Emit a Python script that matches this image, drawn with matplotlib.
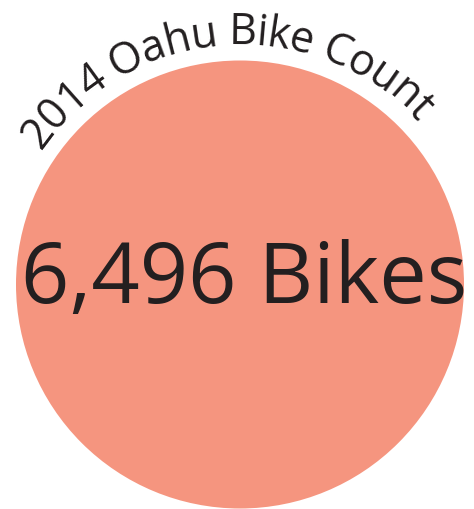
import numpy as np
import matplotlib.pyplot as plt
from matplotlib.patches import Circle
from matplotlib.font_manager import FontProperties, findfont
from matplotlib.ft2font import LOAD_NO_HINTING
from matplotlib import font_manager

# --- Data ---
title = "2014 Oahu Bike Count"
bike_count = 6496
unit = "Bikes"

# --- Style ---
W, H, DPI = 474, 509, 100
circle_color = "#F5957F"
text_color = "#231F20"
family = "Open Sans"

fig = plt.figure(figsize=(W / DPI, H / DPI), dpi=DPI)
ax = fig.add_axes([0, 0, 1, 1])
ax.set_xlim(0, W)
ax.set_ylim(0, H)
ax.set_aspect("equal")
ax.axis("off")

cx, cy, r = 240, H - 284.5, 224
ax.add_patch(Circle((cx, cy), r, facecolor=circle_color, edgecolor="none"))

# big count in the middle
ax.text(
    244.5, H - 303, f"{bike_count:,} {unit}",
    family=family, fontsize=61, color=text_color,
    ha="center", va="baseline",
)

# curved title along the top of the circle
title_size = 31
prop = FontProperties(family=family, size=title_size)
font = font_manager.get_font(findfont(prop))
font.set_size(title_size, DPI)
advances = []
for ch in title:
    g = font.load_char(ord(ch), flags=LOAD_NO_HINTING)
    advances.append(g.linearHoriAdvance / 65536)
advances = np.array(advances)

R = 240
start_deg, end_deg = 146.0, 42.5
arc_len = np.deg2rad(start_deg - end_deg) * R
tracking = (arc_len - advances.sum()) / (len(title) - 1)
advances = advances + tracking
total = advances.sum() - tracking
centers = np.cumsum(advances) - advances / 2 - tracking / 2 - total / 2

mid_angle = np.deg2rad((start_deg + end_deg) / 2)
for ch, off in zip(title, centers):
    theta = mid_angle - off / R
    x = cx + R * np.cos(theta)
    y = cy + R * np.sin(theta)
    ax.text(
        x, y, ch, fontproperties=prop, color=text_color,
        ha="center", va="baseline",
        rotation=np.rad2deg(theta) - 90, rotation_mode="anchor",
    )

fig.savefig("out.png", dpi=DPI)
